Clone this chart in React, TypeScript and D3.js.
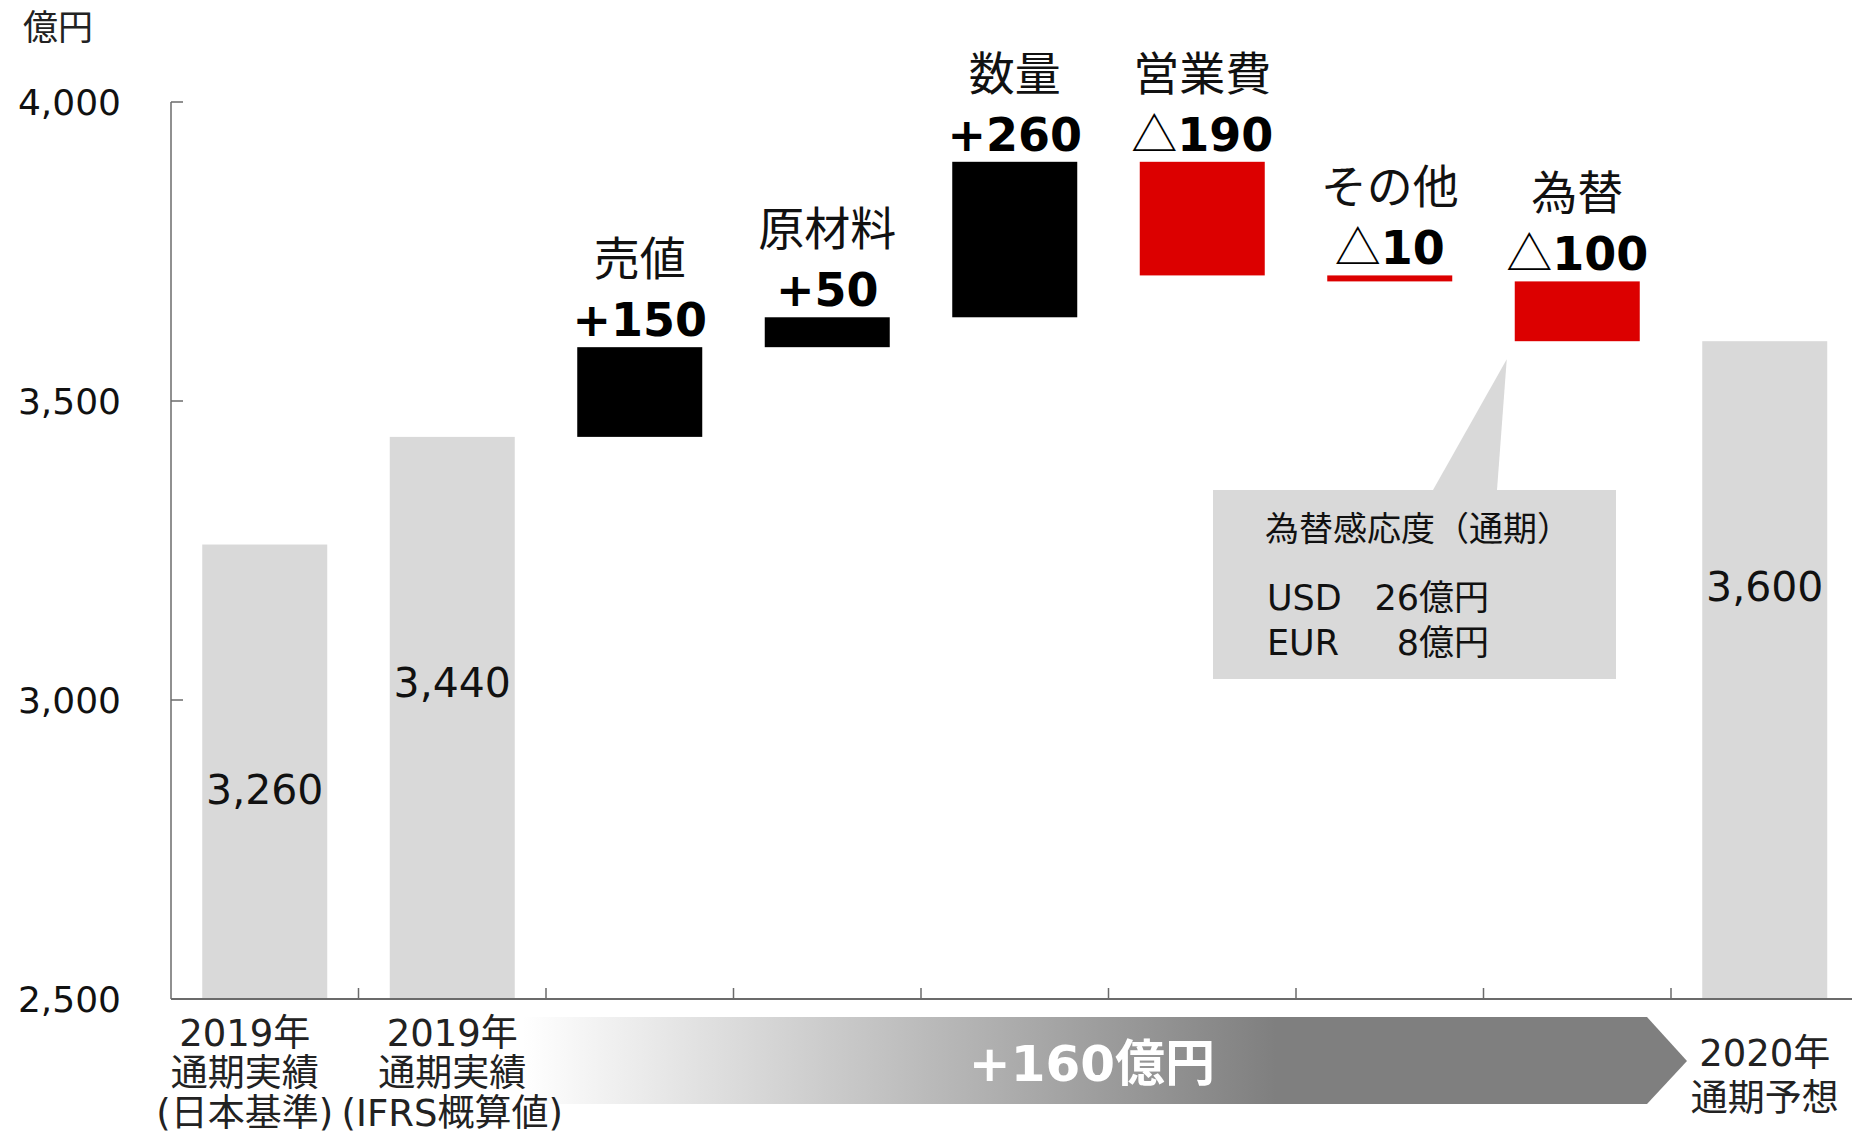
import React from "react";
import * as d3 from "d3";

const W = 1852;
const H = 1139;

// ---- data ----
const stepKeys = ["jp2019", "ifrs2019", "price", "material", "volume", "opex", "other", "fx", "plan2020"];
const stepKinds = ["total", "total", "delta", "delta", "delta", "delta", "delta", "delta", "total"];
const stepValues = [3260, 3440, 150, 50, 260, -190, -10, -100, 3600];
const deltaNames = ["", "", "売値", "原材料", "数量", "営業費", "その他", "為替", ""];
const axisLabelLines = [
  ["2019年", "通期実績", "(日本基準)"],
  ["2019年", "通期実績", "(IFRS概算値)"],
  [], [], [], [], [], [],
  ["2020年", "通期予想"],
];
const yTicks = [2500, 3000, 3500, 4000];
const yDomain = [2500, 4000];
const unitLabel = "億円";
const arrowLabel = "+160億円";
const calloutTitle = "為替感応度（通期）";
const calloutCurrencies = ["USD", "EUR"];
const calloutAmounts = ["26億円", "8億円"];

const LATIN = "'DejaVu Sans', 'Noto Sans CJK JP', sans-serif";
const CJK = "'Noto Sans CJK JP', 'DejaVu Sans', sans-serif";
const GRAY = "#D9D9D9";
const RED = "#DC0000";
const AXIS = "#6b6b6b";

export default function App() {
  const plotLeft = 171;
  const step = 187.5;
  const x = d3
    .scaleBand<number>()
    .domain(d3.range(stepKeys.length))
    .range([plotLeft, plotLeft + step * stepKeys.length])
    .paddingInner(1 / 3)
    .paddingOuter(1 / 6);
  const y = d3.scaleLinear().domain(yDomain).range([999, 102]);

  // waterfall
  let running = 0;
  const bars = stepValues.map((v, i) => {
    let start: number, end: number;
    if (stepKinds[i] === "total") {
      start = yDomain[0];
      end = v;
      running = v;
    } else {
      start = running;
      end = running + v;
      running = end;
    }
    const kind = stepKinds[i] === "total" ? "total" : v >= 0 ? "up" : "down";
    return { i, v, start, end, kind };
  });

  const bw = x.bandwidth();
  const fxIndex = 7;
  const tipX = (x(fxIndex) as number) - 8;
  const tipY = y(bars[fxIndex].end) + 18;

  return (
    <svg
      width={W}
      height={H}
      style={{ position: "absolute", left: 0, top: 0, display: "block", background: "#fff" }}
    >
      <defs>
        <linearGradient id="arrowGrad" gradientUnits="userSpaceOnUse" x1={523} y1={0} x2={1647} y2={0}>
          <stop offset="0" stopColor="#ffffff" />
          <stop offset="0.67" stopColor="#7f7f7f" />
          <stop offset="1" stopColor="#7f7f7f" />
        </linearGradient>
      </defs>

      {/* unit */}
      <text x={23} y={40} fontFamily={CJK} fontSize={35} fill="#222">
        {unitLabel}
      </text>

      {/* bars */}
      {bars.map((b) => {
        const top = y(Math.max(b.start, b.end));
        const bot = y(Math.min(b.start, b.end));
        const fill = b.kind === "total" ? GRAY : b.kind === "up" ? "#000" : RED;
        return (
          <rect key={stepKeys[b.i]} x={x(b.i)} y={top} width={bw} height={bot - top} fill={fill} />
        );
      })}

      {/* total labels */}
      {bars
        .filter((b) => b.kind === "total")
        .map((b) => (
          <text
            key={"t" + b.i}
            x={(x(b.i) as number) + bw / 2}
            y={y(b.end) + 245}
            dy="0.36em"
            textAnchor="middle"
            fontFamily={LATIN}
            fontSize={41}
            fill="#111"
          >
            {d3.format(",")(b.v)}
          </text>
        ))}

      {/* delta labels */}
      {bars
        .filter((b) => b.kind !== "total")
        .map((b) => {
          const cx = (x(b.i) as number) + bw / 2;
          const top = y(Math.max(b.start, b.end));
          const vb = top - 11;
          return (
            <g key={"d" + b.i}>
              <text x={cx} y={vb - 61} textAnchor="middle" fontFamily={CJK} fontSize={46} fill="#111">
                {deltaNames[b.i]}
              </text>
              <text x={cx} y={vb} textAnchor="middle" fontFamily={LATIN} fontSize={46} fontWeight="bold" fill="#000">
                {b.v >= 0 ? (
                  "+" + b.v
                ) : (
                  <>
                    <tspan fontFamily={CJK} fontWeight="normal">△</tspan>
                    <tspan>{Math.abs(b.v)}</tspan>
                  </>
                )}
              </text>
            </g>
          );
        })}

      {/* y axis */}
      <line x1={plotLeft} x2={plotLeft} y1={y(yDomain[1])} y2={y(yDomain[0])} stroke={AXIS} strokeWidth={1.5} />
      {yTicks.map((t) => (
        <g key={t}>
          <line x1={plotLeft} x2={plotLeft + 12} y1={y(t)} y2={y(t)} stroke={AXIS} strokeWidth={1.5} />
          <text
            x={plotLeft - 50}
            y={y(t)}
            dy="0.36em"
            textAnchor="end"
            fontFamily={LATIN}
            fontSize={36}
            fill="#111"
          >
            {d3.format(",")(t)}
          </text>
        </g>
      ))}

      {/* x axis */}
      <line x1={plotLeft} x2={W} y1={y(yDomain[0])} y2={y(yDomain[0])} stroke={AXIS} strokeWidth={2} />
      {d3.range(1, stepKeys.length + 1).map((k) => (
        <line
          key={"xt" + k}
          x1={plotLeft + k * step}
          x2={plotLeft + k * step}
          y1={y(yDomain[0])}
          y2={y(yDomain[0]) - 11}
          stroke={AXIS}
          strokeWidth={1.5}
        />
      ))}

      {/* arrow */}
      <polygon
        points="523,1017 1647,1017 1687,1061 1647,1104 523,1104"
        fill="url(#arrowGrad)"
      />
      <text
        x={1092}
        y={1063}
        dy="0.36em"
        textAnchor="middle"
        fontFamily={LATIN}
        fontSize={50}
        fontWeight="bold"
        fill="#fff"
      >
        {arrowLabel}
      </text>

      {/* category labels */}
      {axisLabelLines.map((lines, i) => {
        if (!lines.length) return null;
        const shift = i === 0 ? -20 : 0;
        const cx = (x(i) as number) + bw / 2 + shift;
        const lh = lines.length === 3 ? 40 : 45;
        const base = lines.length === 3 ? 1046 : 1066;
        return (
          <text key={"c" + i} textAnchor="middle" fontFamily={LATIN} fontSize={37} fill="#222">
            {lines.map((ln, j) => (
              <tspan key={j} x={cx} y={base + j * lh}>
                {ln}
              </tspan>
            ))}
          </text>
        );
      })}

      {/* callout */}
      <polygon points={`1433,490 1497,490 ${tipX},${tipY}`} fill={GRAY} />
      <rect x={1213} y={490} width={403} height={189} fill={GRAY} />
      <text x={1265} y={541} fontFamily={CJK} fontSize={34} fill="#111">
        {calloutTitle}
      </text>
      {calloutCurrencies.map((c, j) => (
        <g key={c}>
          <text x={1267} y={610 + j * 45} fontFamily={LATIN} fontSize={35} fill="#111">
            {c}
          </text>
          <text x={1489} y={610 + j * 45} textAnchor="end" fontFamily={LATIN} fontSize={35} fill="#111">
            {calloutAmounts[j]}
          </text>
        </g>
      ))}
    </svg>
  );
}
